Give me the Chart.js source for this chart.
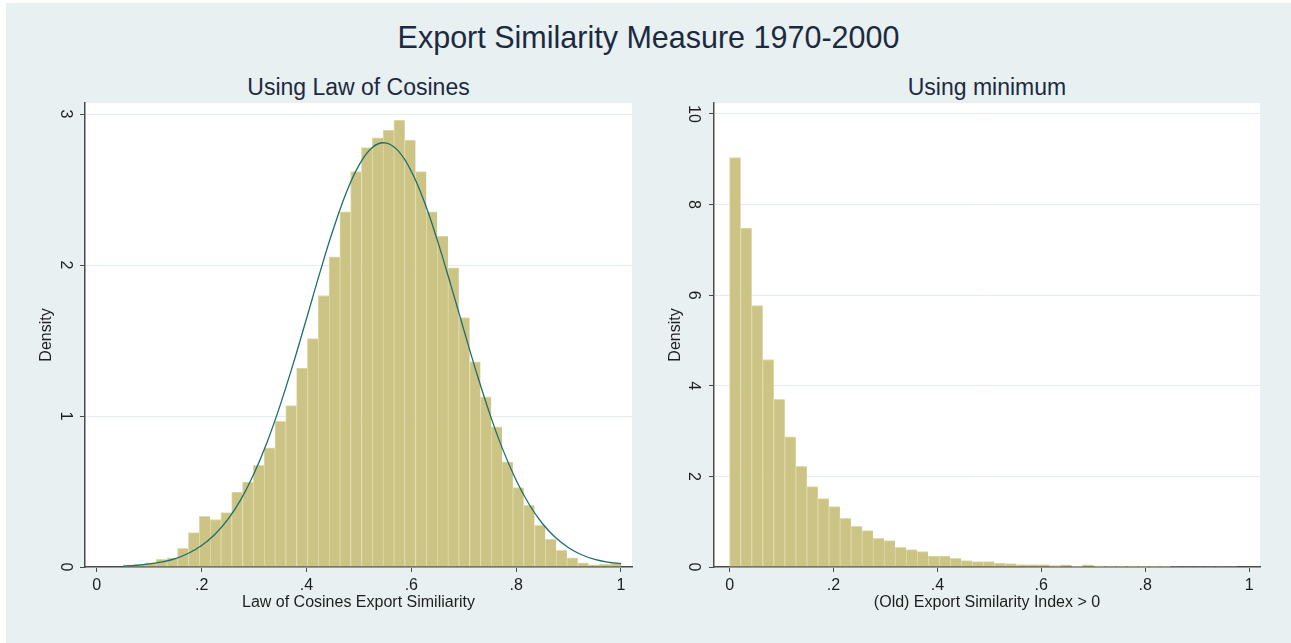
<!DOCTYPE html>
<html>
<head>
<meta charset="utf-8">
<script src="https://cdn.jsdelivr.net/npm/chart.js@4.4.1/dist/chart.umd.min.js"></script>
<style>
  html, body { margin: 0; padding: 0; background: #fff; }
  #page { position: relative; width: 1291px; height: 643px; overflow: hidden; background: #fff;
          font-family: 'Liberation Sans', Arial, sans-serif; }
  #frame { position: absolute; left: 6px; top: 3px; width: 1285px; height: 640px; background: #E8F0F2; }
  .t { position: absolute; text-align: center; white-space: nowrap; color: #1c2a40; }
  #main { left: 6px; width: 1285px; top: 20px; font-size: 30.5px; line-height: 34px; }
  .sub { top: 74px; font-size: 23px; line-height: 26px; }
  canvas { position: absolute; top: 75px; }
</style>
</head>
<body>
<div id="page">
  <div id="frame"></div>
  <div class="t" id="main">Export Similarity Measure 1970-2000</div>
  <div class="t sub" style="left:85px;width:547px">Using Law of Cosines</div>
  <div class="t sub" style="left:714px;width:546px">Using minimum</div>
  <canvas id="cosChart" width="640" height="568" style="left:6px"></canvas>
  <canvas id="minChart" width="645" height="568" style="left:646px"></canvas>
</div>
<script>
// ---- Law of Cosines similarity: histogram (density) with fitted normal curve ----
const cosBinStart = 0.051;
const cosBinWidth = 0.02063;
const cosDensity = [
  0.015, 0.02, 0.027, 0.05, 0.06, 0.124, 0.228, 0.336, 0.314, 0.36,
  0.497, 0.563, 0.674, 0.789, 0.965, 1.069, 1.317, 1.513, 1.798, 2.054,
  2.353, 2.618, 2.777, 2.843, 2.894, 2.96, 2.827, 2.618, 2.353, 2.191,
  1.981, 1.652, 1.359, 1.127, 0.928, 0.696, 0.526, 0.409, 0.276, 0.183,
  0.11, 0.06, 0.027, 0.015, 0.018, 0.027
];
const cosCurveX = [
  0.05, 0.075, 0.1, 0.125, 0.15, 0.175, 0.2, 0.225, 0.25, 0.275,
  0.3, 0.325, 0.35, 0.375, 0.4, 0.425, 0.45, 0.475, 0.5, 0.525,
  0.55, 0.575, 0.6, 0.625, 0.65, 0.675, 0.7, 0.725, 0.75, 0.775,
  0.8, 0.825, 0.85, 0.875, 0.9, 0.925, 0.95, 0.975, 1.0
];
const cosCurveY = [
  0.006, 0.011, 0.020, 0.034, 0.056, 0.091, 0.142, 0.215, 0.315, 0.448,
  0.619, 0.828, 1.074, 1.349, 1.644, 1.943, 2.225, 2.471, 2.660, 2.777,
  2.809, 2.756, 2.621, 2.417, 2.160, 1.872, 1.573, 1.281, 1.011, 0.774,
  0.575, 0.414, 0.288, 0.195, 0.128, 0.081, 0.050, 0.032, 0.022
];
const cosXTicks = [0, 0.2, 0.4, 0.6, 0.8, 1];
const cosXTickLabels = ['0', '.2', '.4', '.6', '.8', '1'];
const cosYTicks = [0, 1, 2, 3];
const cosYTickLabels = ['0', '1', '2', '3'];

// ---- Old export similarity index (> 0): histogram (density) ----
const minBinStart = 0;
const minBinWidth = 0.02123;
const minDensity = [
  9.035, 7.48, 5.77, 4.58, 3.70, 2.87, 2.22, 1.775, 1.51, 1.333,
  1.075, 0.898, 0.803, 0.633, 0.582, 0.434, 0.383, 0.339, 0.243, 0.243,
  0.191, 0.14, 0.118, 0.118, 0.088, 0.074, 0.052, 0.052, 0.052, 0.03,
  0.05, 0.02, 0.05, 0.02, 0.02, 0.018, 0.018, 0.015, 0.015, 0.015,
  0.012, 0.012, 0.012, 0.01, 0.01, 0.01
];
const minXTicks = [0, 0.2, 0.4, 0.6, 0.8, 1];
const minXTickLabels = ['0', '.2', '.4', '.6', '.8', '1'];
const minYTicks = [0, 2, 4, 6, 8, 10];
const minYTickLabels = ['0', '2', '4', '6', '8', '10'];

Chart.defaults.font.family = "'Liberation Sans', Arial, sans-serif";

const AXIS = '#4a4a4a';
const TEXT = '#1e1e1e';
const GRID = '#E4ECEF';
const BAR_FILL = '#CBC484';
const BAR_EDGE = '#E0DAAC';
const CURVE = '#1E6F6B';

// white plot region behind the marks
const plotRegion = {
  id: 'plotRegion',
  beforeDraw(chart) {
    const { ctx, chartArea: a } = chart;
    ctx.save();
    ctx.fillStyle = '#ffffff';
    ctx.fillRect(a.left, a.top, a.right - a.left, a.bottom - a.top);
    ctx.restore();
  }
};

function binPoints(start, width, values) {
  return values.map((v, i) => ({ x: start + width * (i + 0.5), y: v }));
}

function histogram(canvasId, opt) {
  const datasets = [];
  if (opt.curveX) {
    datasets.push({
      type: 'line',
      data: opt.curveX.map((x, i) => ({ x, y: opt.curveY[i] })),
      borderColor: CURVE,
      borderWidth: 1.3,
      pointRadius: 0,
      tension: 0.4,
      fill: false,
      order: 0
    });
  }
  datasets.push({
    type: 'bar',
    data: binPoints(opt.binStart, opt.binWidth, opt.density),
    backgroundColor: BAR_FILL,
    borderColor: BAR_EDGE,
    borderWidth: { left: 1, top: 1, right: 0, bottom: 0 },
    borderSkipped: false,
    barPercentage: 1,
    categoryPercentage: 1,
    order: 1
  });

  return new Chart(document.getElementById(canvasId), {
    type: 'bar',
    data: { datasets },
    plugins: [plotRegion],
    options: {
      responsive: false,
      animation: false,
      events: [],
      layout: { padding: { top: 28, right: opt.padRight, bottom: 0, left: 0 } },
      plugins: { legend: { display: false }, tooltip: { enabled: false }, title: { display: false } },
      scales: {
        x: {
          type: 'linear',
          offset: false,
          min: opt.xMin,
          max: opt.xMax,
          afterBuildTicks: ax => { ax.ticks = opt.xTicks.map(v => ({ value: v })); },
          afterFit: s => { s.height = 76; },
          grid: { offset: false, drawOnChartArea: false, drawTicks: true, tickLength: 5, tickColor: AXIS, tickWidth: 1 },
          border: { color: AXIS, width: 1.5 },
          ticks: {
            color: TEXT, font: { size: 16 }, padding: 4.4, autoSkip: false, maxRotation: 0,
            callback: (v, i) => opt.xTickLabels[i]
          },
          title: { display: true, text: opt.xTitle, color: TEXT, font: { size: 16 },
                   padding: { top: 0, bottom: 30.9 } }
        },
        y: {
          min: 0,
          max: opt.yMax,
          afterBuildTicks: ax => { ax.ticks = opt.yTicks.map(v => ({ value: v })); },
          afterFit: s => { s.width = opt.yWidth; },
          grid: { color: GRID, lineWidth: 1, drawTicks: true, tickLength: 5, tickColor: AXIS, tickWidth: 1 },
          border: { color: AXIS, width: 1.5 },
          ticks: {
            color: TEXT, font: { size: 16 }, minRotation: -90, maxRotation: -90,
            crossAlign: 'center', padding: opt.yTickPad, autoSkip: false,
            callback: (v, i) => opt.yTickLabels[i]
          },
          title: { display: true, text: 'Density', color: TEXT, font: { size: 16 },
                   padding: { top: opt.yTitlePad, bottom: 0 } }
        }
      }
    }
  });
}

histogram('cosChart', {
  binStart: cosBinStart, binWidth: cosBinWidth, density: cosDensity,
  curveX: cosCurveX, curveY: cosCurveY,
  xMin: -0.0225, xMax: 1.021, xTicks: cosXTicks, xTickLabels: cosXTickLabels,
  yMax: 3.073, yTicks: cosYTicks, yTickLabels: cosYTickLabels,
  xTitle: 'Law of Cosines Export Similiarity',
  yWidth: 79, yTickPad: 10.5, yTitlePad: 31.1, padRight: 14
});

histogram('minChart', {
  binStart: minBinStart, binWidth: minBinWidth, density: minDensity,
  xMin: -0.030, xMax: 1.021, xTicks: minXTicks, xTickLabels: minXTickLabels,
  yMax: 10.24, yTicks: minYTicks, yTickLabels: minYTickLabels,
  xTitle: '(Old) Export Similarity Index > 0',
  yWidth: 68, yTickPad: 6.6, yTitlePad: 20.4, padRight: 31
});
</script>
</body>
</html>
